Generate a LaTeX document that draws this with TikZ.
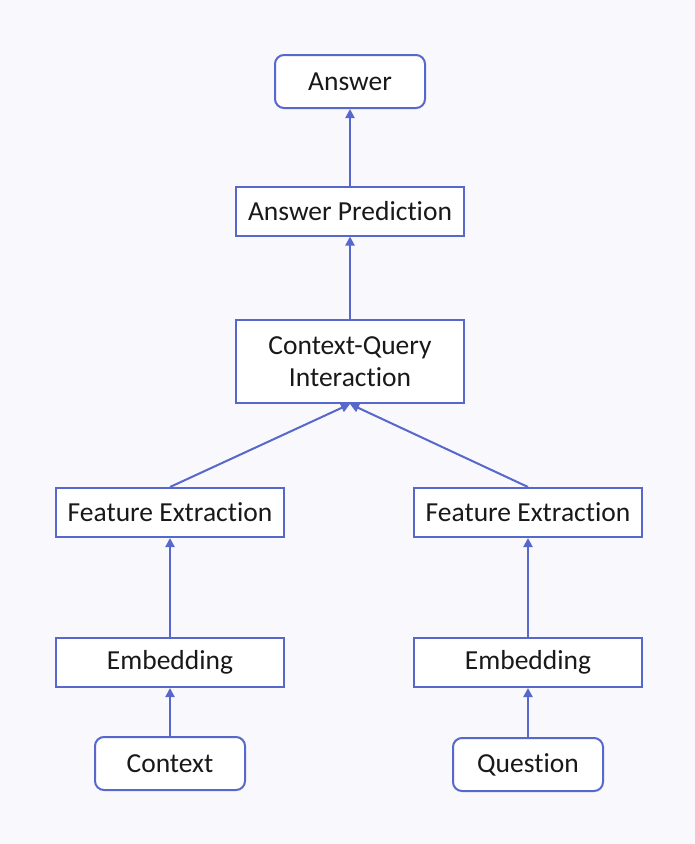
\documentclass[tikz,border=0pt]{standalone}
\usepackage{fontspec}
\setmainfont[Ligatures={NoCommon}]{Carlito}
\usetikzlibrary{arrows.meta}
\definecolor{edgeblue}{RGB}{86,104,204}
\definecolor{bgcol}{RGB}{249,248,252}
\definecolor{txt}{RGB}{25,25,25}
\begin{document}
\begin{tikzpicture}[x=1pt,y=-1pt,
  box/.style={draw=edgeblue,line width=2pt,fill=white,minimum width=228pt,minimum height=49pt,inner sep=0pt,align=center,text=txt,font=\fontsize{27.5}{32}\selectfont},
  rbox/.style={box,rounded corners=9pt,minimum width=150pt,minimum height=53pt},
  conn/.style={draw=edgeblue,line width=2pt,-{Triangle[length=9pt,width=9pt]}}]
\fill[bgcol] (0,0) rectangle (695,844);
\useasboundingbox (0,0) rectangle (695,844);
\node[rbox] (ans) at (350,81.5) {Answer};
\node[box] (pred) at (350,211) {Answer Prediction};
\node[box,minimum height=83pt] (cqi) at (350,361.5) {Context-Query\\Interaction};
\node[box] (fel) at (170,512.5) {Feature Extraction};
\node[box] (fer) at (528,512.5) {Feature Extraction};
\node[box] (embl) at (170,662.5) {Embedding};
\node[box] (embr) at (528,662.5) {Embedding};
\node[rbox] (ctx) at (170,763.5) {Context};
\node[rbox] (q) at (528,764.5) {Question};
\draw[conn] (pred) -- (ans);
\draw[conn] (cqi) -- (pred);
\draw[conn] (fel.north) -- (cqi.south);
\draw[conn] (fer.north) -- (cqi.south);
\draw[conn] (embl) -- (fel);
\draw[conn] (embr) -- (fer);
\draw[conn] (ctx) -- (embl);
\draw[conn] (q) -- (embr);
\end{tikzpicture}
\end{document}
